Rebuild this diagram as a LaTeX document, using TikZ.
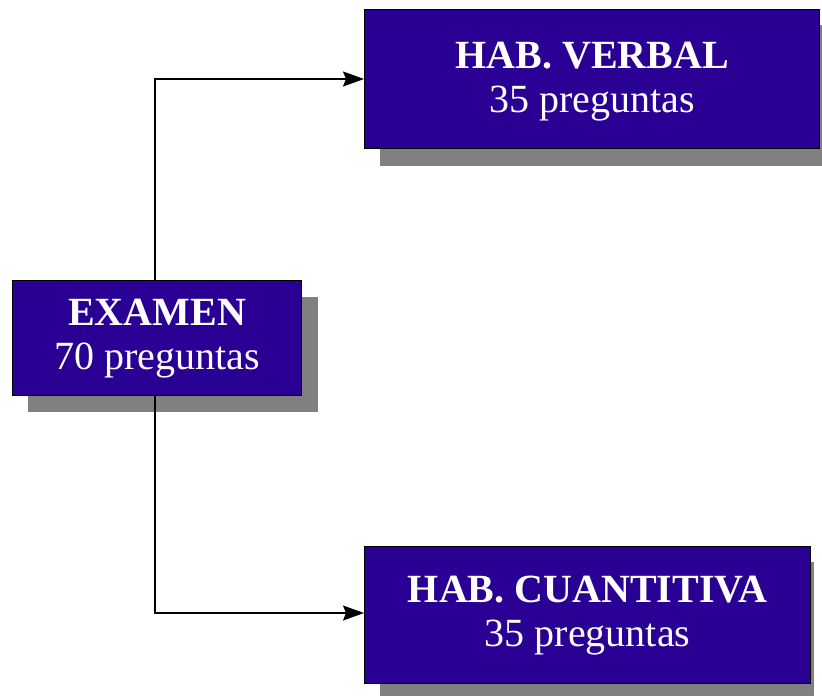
\documentclass[tikz,border=0pt]{standalone}
\usepackage{fontspec}
\setmainfont{Liberation Serif}
\usetikzlibrary{arrows.meta}
\definecolor{boxblue}{RGB}{42,0,148}
\definecolor{shadowgray}{RGB}{128,128,128}
\begin{document}
\begin{tikzpicture}[x=1pt,y=-1pt,
  box/.style={draw=black,line width=1.3pt,fill=boxblue,text=white,align=center,inner sep=0pt,anchor=north west,font=\fontsize{40}{44}\selectfont},
  shadowbox/.style={fill=shadowgray,draw=none},
  conn/.style={draw=black,line width=1.3pt,-{Stealth[length=21pt,width=15pt,inset=3pt]}}]
\useasboundingbox (0,0) rectangle (822,696);
\clip (0,0) rectangle (822,696);
% shadows
\fill[shadowgray] (28,297) rectangle (318,412);
\fill[shadowgray] (380,25) rectangle (822,166);
\fill[shadowgray] (380,562) rectangle (814,696);
% boxes
\node[box,minimum width=289pt,minimum height=115pt] (ex) at (12,280) {\textbf{EXAMEN}\\70 preguntas};
\node[box,minimum width=455pt,minimum height=139pt,text depth=4pt] (ve) at (364,9) {\textbf{HAB. VERBAL}\\35 preguntas};
\node[box,minimum width=446pt,minimum height=137pt] (cu) at (364,546) {\textbf{HAB. CUANTITIVA}\\35 preguntas};
% connectors
\draw[conn] (ex.north -| 155,0) |- (ve.west |- 0,79);
\draw[conn] (ex.south -| 155,0) |- (cu.west |- 0,613);
\end{tikzpicture}
\end{document}
